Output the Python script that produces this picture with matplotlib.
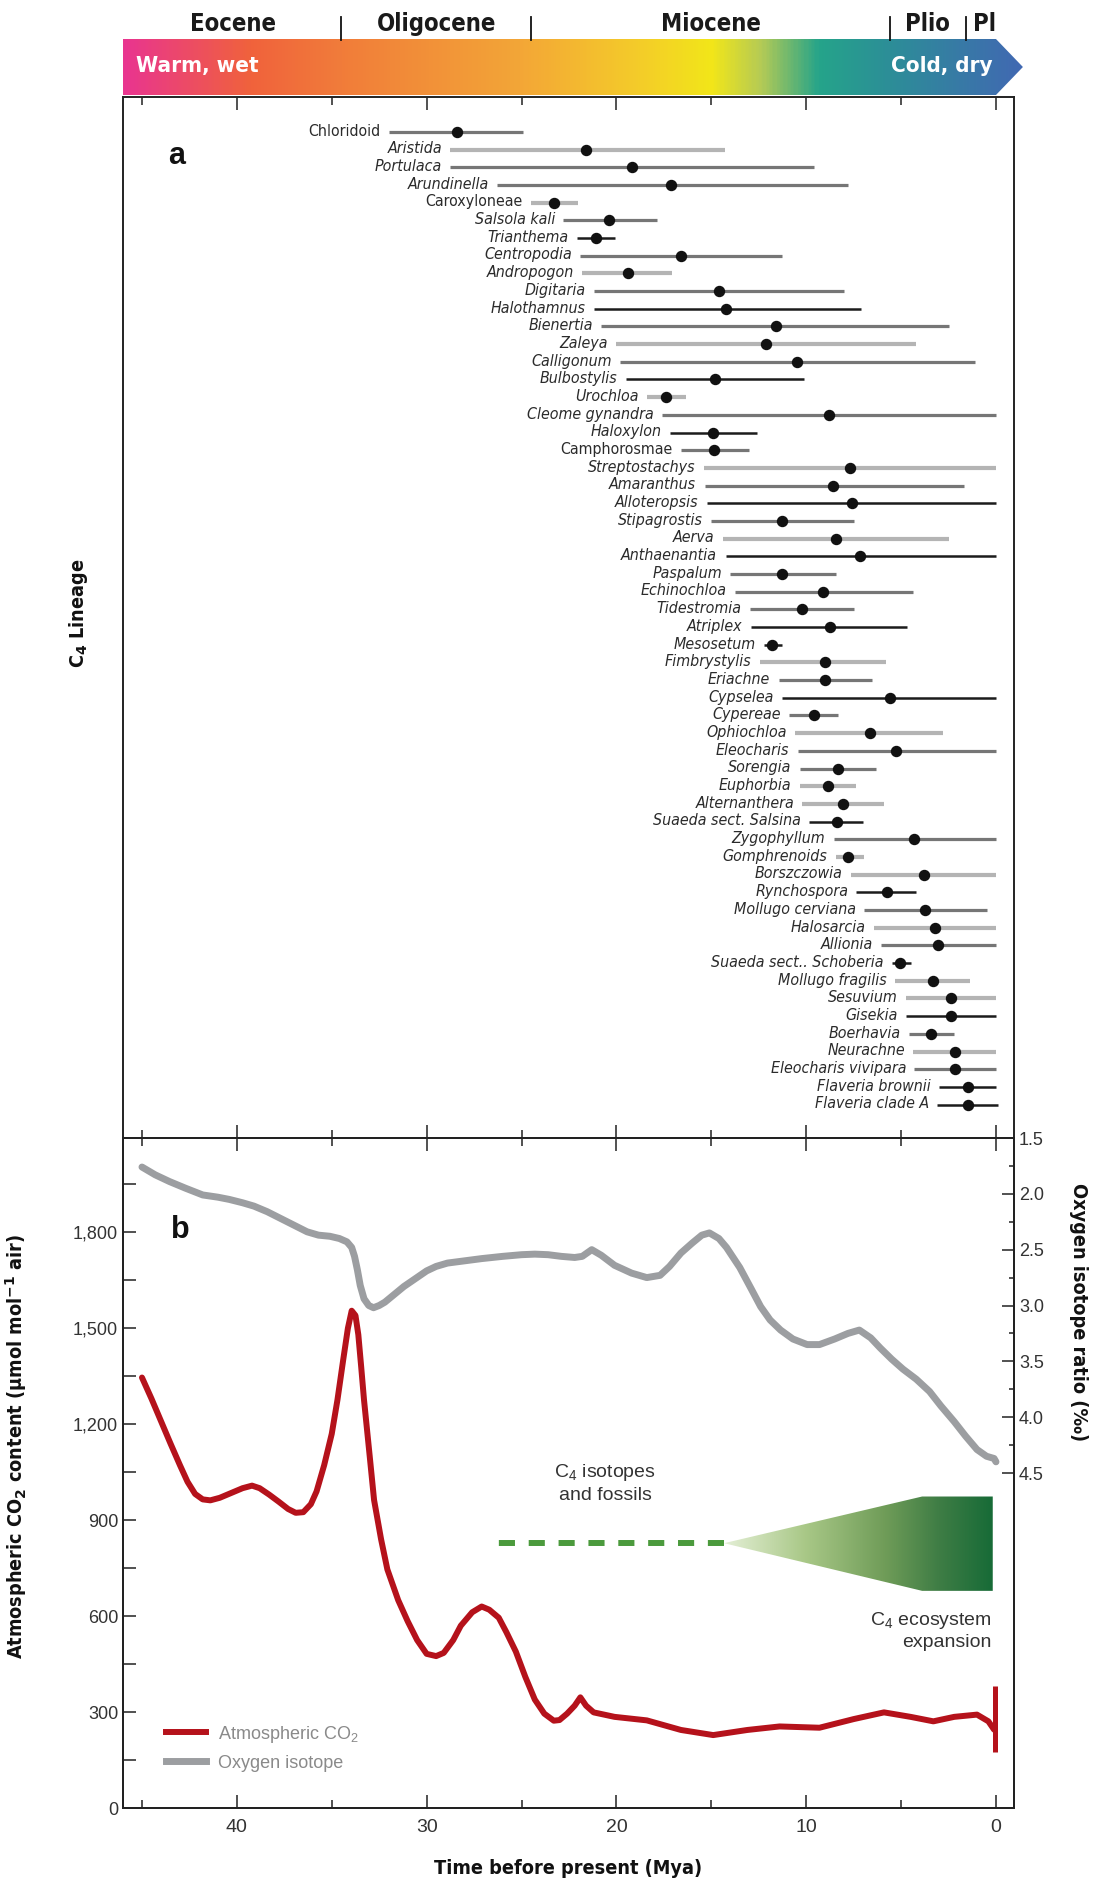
import numpy as np
import matplotlib
matplotlib.use("Agg")
import matplotlib.pyplot as plt
from matplotlib import font_manager
from matplotlib.patches import Polygon
from matplotlib.colors import LinearSegmentedColormap
from matplotlib.lines import Line2D
from matplotlib.ticker import MultipleLocator, FuncFormatter

# ---------------- data ----------------
lineages = ["Chloridoid", "Aristida", "Portulaca", "Arundinella", "Caroxyloneae",
            "Salsola kali", "Trianthema", "Centropodia", "Andropogon", "Digitaria",
            "Halothamnus", "Bienertia", "Zaleya", "Calligonum", "Bulbostylis",
            "Urochloa", "Cleome gynandra", "Haloxylon", "Camphorosmae", "Streptostachys",
            "Amaranthus", "Alloteropsis", "Stipagrostis", "Aerva", "Anthaenantia",
            "Paspalum", "Echinochloa", "Tidestromia", "Atriplex", "Mesosetum",
            "Fimbrystylis", "Eriachne", "Cypselea", "Cypereae", "Ophiochloa",
            "Eleocharis", "Sorengia", "Euphorbia", "Alternanthera", "Suaeda sect. Salsina",
            "Zygophyllum", "Gomphrenoids", "Borszczowia", "Rynchospora", "Mollugo cerviana",
            "Halosarcia", "Allionia", "Suaeda sect.. Schoberia", "Mollugo fragilis", "Sesuvium",
            "Gisekia", "Boerhavia", "Neurachne", "Eleocharis vivipara", "Flaveria brownii",
            "Flaveria clade A"]
origin_old = [32.0, 28.75, 28.75, 26.3, 24.5, 22.8, 22.1, 21.9, 21.8, 21.2,
              21.2, 20.8, 20.0, 19.8, 19.5, 18.4, 17.6, 17.2, 16.6, 15.4,
              15.35, 15.25, 15.0, 14.4, 14.25, 14.0, 13.75, 12.95, 12.9, 12.2,
              12.45, 11.45, 11.25, 10.9, 10.6, 10.45, 10.35, 10.35, 10.2, 9.85,
              8.55, 8.45, 7.65, 7.35, 6.95, 6.45, 6.05, 5.5, 5.3, 4.75,
              4.75, 4.6, 4.35, 4.3, 3.0, 3.1]
origin_mid = [28.4, 21.6, 19.2, 17.1, 23.3, 20.4, 21.1, 16.6, 19.4, 14.6,
              14.2, 11.6, 12.1, 10.5, 14.8, 17.4, 8.8, 14.9, 14.85, 7.7,
              8.6, 7.6, 11.3, 8.45, 7.15, 11.3, 9.1, 10.2, 8.75, 11.8,
              9.0, 9.0, 5.6, 9.6, 6.65, 5.25, 8.3, 8.85, 8.05, 8.4,
              4.3, 7.8, 3.8, 5.75, 3.75, 3.2, 3.05, 5.05, 3.3, 2.35,
              2.35, 3.4, 2.15, 2.15, 1.5, 1.5]
origin_young = [24.9, 14.3, 9.6, 7.8, 22.0, 17.85, 20.1, 11.3, 17.05, 8.0,
                7.1, 2.5, 4.2, 1.1, 10.1, 16.35, 0.0, 12.6, 13.0, 0.0,
                1.7, 0.0, 7.5, 2.45, 0.0, 8.45, 4.35, 7.5, 4.7, 11.3,
                5.8, 6.55, 0.0, 8.35, 2.8, 0.0, 6.3, 7.4, 5.9, 7.0,
                0.0, 6.95, 0.0, 4.2, 0.45, 0.0, 0.0, 4.5, 1.35, 0.0,
                0.0, 2.2, 0.0, 0.0, 0.0, -0.1]
lineage_group = ["M", "L", "M", "M", "L", "M", "D", "M", "L", "M",
                 "D", "M", "L", "M", "D", "L", "M", "D", "M", "L",
                 "M", "D", "M", "L", "D", "M", "M", "M", "D", "D",
                 "L", "M", "D", "M", "L", "M", "M", "L", "L", "D",
                 "M", "L", "L", "D", "M", "L", "M", "D", "L", "L",
                 "D", "M", "L", "M", "D", "D"]
upright_names = ["Chloridoid", "Caroxyloneae", "Camphorosmae"]

epochs = ["Eocene", "Oligocene", "Miocene", "Plio", "Pl"]
epoch_label_mya = [40.2, 29.5, 15.0, 3.6, 0.6]
epoch_bounds = [34.5, 24.5, 5.6, 1.6]

co2_mya = [45.0, 44.5, 44.0, 43.5, 43.0, 42.6, 42.2, 41.8, 41.4, 40.9, 40.3, 39.7, 39.2,
           38.8, 38.3, 37.8, 37.3, 36.9, 36.5, 36.1, 35.8, 35.4, 35.0, 34.7, 34.4, 34.15,
           33.95, 33.75, 33.6, 33.45, 33.3, 33.0, 32.77, 32.4, 32.07, 31.5, 31.0, 30.5,
           30.0, 29.5, 29.1, 28.6, 28.2, 27.6, 27.1, 26.7, 26.2, 25.8, 25.3, 24.8, 24.3,
           23.8, 23.3, 23.0, 22.6, 22.2, 21.9, 21.6, 21.2, 20.1, 18.4, 16.6, 14.9, 13.1,
           11.4, 9.3, 7.5, 5.9, 4.5, 3.3, 2.2, 1.0, 0.4, 0.1]
co2_ppm = [1346, 1280, 1210, 1140, 1072, 1020, 982, 965, 962, 970, 985, 1000, 1008,
           1000, 980, 958, 935, 923, 925, 950, 990, 1072, 1170, 1276, 1400, 1500,
           1555, 1540, 1480, 1380, 1276, 1100, 963, 840, 746, 650, 584, 525,
           482, 475, 485, 525, 570, 612, 630, 620, 595, 550, 489, 410, 339,
           295, 273, 275, 295, 320, 346, 320, 299, 285, 274, 244, 228, 244,
           255, 251, 278, 299, 285, 271, 285, 292, 271, 245]
modern_co2_range = [176, 380]

o18_mya = [45.0, 44.3, 43.55, 42.7, 41.8, 41.0, 40.4, 39.7, 39.1, 38.4, 37.7, 37.0, 36.3,
           35.7, 35.1, 34.6, 34.2, 33.95, 33.8, 33.65, 33.5, 33.3, 33.05, 32.8, 32.5, 32.2,
           31.7, 31.2, 30.6, 30.0, 29.5, 28.9, 28.0, 27.1, 26.0, 25.0, 24.3, 23.6, 22.9,
           22.2, 21.8, 21.3, 20.8, 20.1, 19.2, 18.4, 17.7, 17.2, 16.6, 16.0, 15.5, 15.1,
           14.6, 14.2, 13.5, 12.9, 12.4, 11.9, 11.35, 10.7, 9.95, 9.3, 8.5, 7.8, 7.2,
           6.6, 6.1, 5.5, 4.9, 4.2, 3.5, 2.9, 2.2, 1.6, 1.0, 0.5, 0.1, 0.0]
o18_ratio = [1.76, 1.83, 1.89, 1.95, 2.01, 2.03, 2.05, 2.08, 2.11, 2.16, 2.22, 2.28, 2.34,
             2.37, 2.38, 2.40, 2.43, 2.48, 2.56, 2.68, 2.82, 2.94, 3.00, 3.02, 3.00, 2.97,
             2.90, 2.83, 2.76, 2.69, 2.65, 2.62, 2.60, 2.58, 2.56, 2.545, 2.54, 2.545, 2.56,
             2.57, 2.56, 2.50, 2.55, 2.64, 2.71, 2.75, 2.73, 2.65, 2.53, 2.44, 2.37, 2.35,
             2.40, 2.48, 2.66, 2.85, 3.01, 3.13, 3.22, 3.30, 3.35, 3.35, 3.30, 3.25, 3.22,
             3.29, 3.38, 3.48, 3.57, 3.66, 3.77, 3.90, 4.04, 4.17, 4.29, 4.35, 4.37, 4.40]

c4_fossil_mya = [26.33, 14.33]
c4_fossil_co2 = 828
wedge_mya = [14.33, 3.89, 0.17, 0.17, 3.89]
wedge_co2 = [828, 974, 974, 679, 679]

# ---------------- fonts ----------------
flist = font_manager.fontManager.ttflist
names = {f.name for f in flist}
has_dv_cond = any(f.name == "DejaVu Sans" and "condensed" in str(f.stretch) for f in flist)
if "Liberation Sans Narrow" in names:
    NARROW, STRETCH, S = "Liberation Sans Narrow", "normal", 1.0
elif has_dv_cond:
    NARROW, STRETCH, S = "DejaVu Sans", "condensed", 0.95
else:
    NARROW, STRETCH, S = "DejaVu Sans", "normal", 0.85
REG = "Liberation Sans" if "Liberation Sans" in names else "DejaVu Sans"
plt.rcParams["font.family"] = [REG, "DejaVu Sans"]
plt.rcParams["mathtext.fontset"] = "custom"
plt.rcParams["mathtext.rm"] = REG
plt.rcParams["mathtext.it"] = REG + ":italic"
plt.rcParams["mathtext.bf"] = NARROW + ":bold"

W, H = 1109, 1885
fig = plt.figure(figsize=(W / 100, H / 100), dpi=100)

XL, XR = 46.0, -0.95
PXM = (1014 - 123) / (XL - XR)

TXT = "#2b2b2b"
NF = dict(family=[NARROW, "DejaVu Sans"], fontstretch=STRETCH)
# ---------------- panel a ----------------
ax_a = fig.add_axes([123 / W, 1 - 1138 / H, 891 / W, (1138 - 97) / H])
ax_b = fig.add_axes([123 / W, 1 - 1808 / H, 891 / W, (1808 - 1138) / H])
for ax in (ax_a, ax_b):
    ax.set_xlim(XL, XR)
    ax.xaxis.set_major_locator(MultipleLocator(10))
    ax.xaxis.set_minor_locator(MultipleLocator(5))
    ax.tick_params(axis="x", which="major", direction="in", length=9.4, width=1.1,
                   top=True, bottom=True, color="#222")
    ax.tick_params(axis="x", which="minor", direction="in", length=5.8, width=1.1,
                   top=True, bottom=True, color="#222")
    for sp in ax.spines.values():
        sp.set_linewidth(1.4)
        sp.set_color("#222")

group_color = {"L": "#b4b4b4", "M": "#767676", "D": "#1c1c1c"}
group_lw = {"L": 3.0, "M": 2.3, "D": 1.8}
ypos = np.arange(len(lineages))
for i, name in enumerate(lineages):
    g = lineage_group[i]
    ax_a.plot([origin_old[i], origin_young[i]], [ypos[i], ypos[i]], color=group_color[g],
              lw=group_lw[g], solid_capstyle="butt", zorder=2)
    ax_a.plot(origin_mid[i], ypos[i], "o", color="#111111", ms=7.2, zorder=3)
    ax_a.annotate(name, xy=(origin_old[i], ypos[i]), xytext=(-6, 0.5),
                  textcoords="offset points", ha="right", va="center",
                  fontsize=12 * S, color=TXT,
                  style="normal" if name in upright_names else "italic", **NF)
ax_a.set_ylim(56.89, -1.97)
ax_a.set_yticks([])
ax_a.tick_params(axis="x", labelbottom=False)
ax_a.text(0.0606, 0.943, "a", transform=ax_a.transAxes, fontsize=22, fontweight="bold",
          ha="center", va="center", color="#111")
ax_a.set_ylabel(r"C$_\mathbf{4}$ Lineage", fontsize=15 * S, fontweight="bold",
                color="#111", **NF)
ax_a.yaxis.set_label_coords(-0.037, 0.504)

# ---------------- banner ----------------
ban_right = XR - (1030 - 1014) / PXM
ax_ban = fig.add_axes([123 / W, 1 - 97 / H, (1030 - 123) / W, 97 / H])
ax_ban.set_xlim(XL, ban_right)
ax_ban.set_ylim(97, 0)
ax_ban.axis("off")
stops = [(0.0, "#e9358f"), (0.14, "#f0623c"), (0.24, "#f17c3a"), (0.44, "#f3a637"),
         (0.57, "#f4cb2a"), (0.655, "#f2e619"), (0.71, "#b5cb55"), (0.775, "#25a48a"),
         (0.85, "#2c8f97"), (1.0, "#4169b2")]
bcmap = LinearSegmentedColormap.from_list("ban", stops)
poly = Polygon([(XL, 39), (0, 39), (-1.42, 67), (0, 95), (XL, 95)], closed=True,
               facecolor="none", edgecolor="none", transform=ax_ban.transData)
ax_ban.add_patch(poly)
im = ax_ban.imshow(np.linspace(0, 1, 600)[None, :], extent=(XL, -1.42, 95, 39),
                   aspect="auto", cmap=bcmap, interpolation="bilinear")
im.set_clip_path(poly)
for b in epoch_bounds:
    ax_ban.plot([b, b], [17, 40], color="#111", lw=1.3)
for lab, x in zip(epochs, epoch_label_mya):
    ax_ban.text(x, 24, lab, ha="center", va="center", fontsize=18 * S, fontweight="bold",
                color="#1a1a1a", **NF)
ax_ban.text(45.3, 66, "Warm, wet", ha="left", va="center", fontsize=17 * S,
            fontweight="bold", color="white", **NF)
ax_ban.text(0.2, 66, "Cold, dry", ha="right", va="center", fontsize=17 * S,
            fontweight="bold", color="white", **NF)

# ---------------- panel b ----------------
RED = "#b5121b"
GRAY = "#9c9ea1"
ax_b.set_ylim(0, 2095)
ax_b.yaxis.set_major_locator(MultipleLocator(300))
ax_b.yaxis.set_minor_locator(MultipleLocator(150))
ax_b.yaxis.set_major_formatter(FuncFormatter(lambda v, p: f"{int(v):,}"))
ax_b.tick_params(axis="y", which="both", direction="in", length=9, width=1.1,
                 labelsize=13, labelcolor="#333", color="#222", right=False)
ax_b.tick_params(axis="x", which="major", labelsize=14, labelcolor="#333", pad=8)
ax_b.plot(co2_mya, co2_ppm, color=RED, lw=4.3, solid_joinstyle="round",
          solid_capstyle="round", zorder=4)
ax_b.plot([0.05, 0.05], modern_co2_range, color=RED, lw=3.6, solid_capstyle="butt", zorder=4)

ax_b2 = ax_b.twinx()
ax_b2.set_xlim(XL, XR)
ax_b2.set_ylim(7.5, 1.5)
ax_b2.set_yticks([1.5, 2.0, 2.5, 3.0, 3.5, 4.0, 4.5])
ax_b2.set_yticks([1.75, 2.25, 2.75, 3.25, 3.75, 4.25], minor=True)
ax_b2.yaxis.set_major_formatter(FuncFormatter(lambda v, p: f"{v:.1f}"))
ax_b2.tick_params(axis="y", which="major", direction="in", length=8.6, width=1.1,
                  labelsize=13, labelcolor="#333", color="#222")
ax_b2.tick_params(axis="y", which="minor", direction="in", length=3.6, width=1.1, color="#222")
for sp in ax_b2.spines.values():
    sp.set_linewidth(1.4)
    sp.set_color("#222")
ax_b2.plot(o18_mya, o18_ratio, color=GRAY, lw=5.0, solid_joinstyle="round",
           solid_capstyle="round", zorder=3)

# C4 fossils dashed line and ecosystem wedge
ax_b.plot(c4_fossil_mya[::-1], [c4_fossil_co2] * 2, color="#4b9a3c", lw=4.3,
          dashes=(2.7, 2.3), solid_capstyle="butt", dash_capstyle="butt", zorder=3)
wpoly = Polygon(list(zip(wedge_mya, wedge_co2)), closed=True, facecolor="none",
                edgecolor="none", transform=ax_b.transData)
ax_b.add_patch(wpoly)
gcmap = LinearSegmentedColormap.from_list(
    "grn", [(0.0, "#e4efd6"), (0.3, "#a9c887"), (0.6, "#6f9c58"), (0.8, "#3f7d45"), (1.0, "#176b37")])
wim = ax_b.imshow(np.linspace(0, 1, 400)[None, :],
                  extent=(wedge_mya[0], wedge_mya[2], min(wedge_co2), max(wedge_co2)),
                  aspect="auto", cmap=gcmap, interpolation="bilinear", zorder=3)
wim.set_clip_path(wpoly)
ax_b.set_xlim(XL, XR)
ax_b.set_ylim(0, 2095)

ax_b.text(20.6, 1015, "C$_4$ isotopes\nand fossils", ha="center", va="center", fontsize=14,
          color="#333", linespacing=1.3)
ax_b.text(0.23, 555, "C$_4$ ecosystem\nexpansion", ha="right", va="center", fontsize=14,
          color="#333", linespacing=1.3)
ax_b.text(0.064, 0.863, "b", transform=ax_b.transAxes, fontsize=22, fontweight="bold",
          ha="center", va="center", color="#111")

handles = [Line2D([], [], color=RED, lw=4.3), Line2D([], [], color=GRAY, lw=5.0)]
leg = ax_b2.legend(handles, ["Atmospheric CO$_2$", "Oxygen isotope"], loc="lower left",
                   bbox_to_anchor=(0.03, 0.03), frameon=False, handlelength=2.2,
                   handletextpad=0.7, labelspacing=0.55, prop={"size": 13})
for t in leg.get_texts():
    t.set_color("#8a8a8a")

ax_b.set_xlabel("Time before present (Mya)", fontsize=15 * S, fontweight="bold",
                color="#111", **NF)
ax_b.xaxis.set_label_coords(0.5, -0.076)
ax_b.set_ylabel(r"Atmospheric CO$_\mathbf{2}$ content (µmol mol$^\mathbf{-1}$ air)",
                fontsize=15 * S, fontweight="bold", color="#111", **NF)
ax_b.yaxis.set_label_coords(-0.106, 0.54)
ax_b2.set_ylabel("Oxygen isotope ratio (‰)", rotation=270, fontsize=15 * S,
                 fontweight="bold", color="#111", **NF)
ax_b2.yaxis.set_label_coords(1.083, 0.74)

fig.savefig("out.png", dpi=100)
